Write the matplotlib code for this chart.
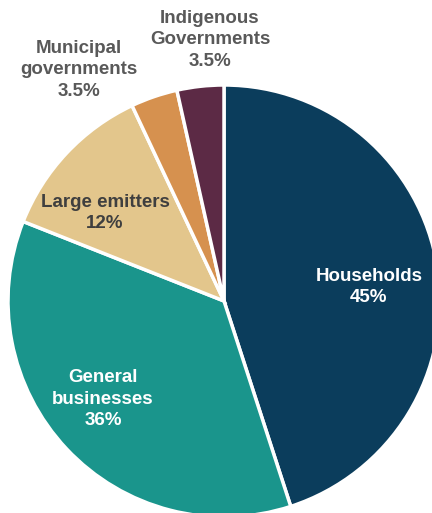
import matplotlib
matplotlib.use("Agg")
import matplotlib.pyplot as plt

# Données du graphique
categories = ["Households", "General\nbusinesses", "Large emitters",
              "Municipal\ngovernments", "Indigenous\nGovernments"]
shares = [45, 36, 12, 3.5, 3.5]
share_labels = ["45%", "36%", "12%", "3.5%", "3.5%"]
colors = ["#0B3D5C", "#1A958C", "#E3C68C", "#D6914F", "#5C2A45"]
label_colors = ["white", "white", "#3F3F3F", "#595959", "#595959"]

plt.rcParams['font.family'] = ['Liberation Sans', 'DejaVu Sans']

W, H = 432, 513
fig = plt.figure(figsize=(W / 100, H / 100), dpi=100)
ax = fig.add_axes([0, 0, 1, 1])

# Centre et rayon du camembert en pixels
cx, cy, r = 224, H - 301, 216
ax.pie(shares, colors=colors, startangle=90, counterclock=False,
       center=(cx, cy), radius=r, frame=True,
       wedgeprops=dict(edgecolor="white", linewidth=2.5))
ax.set_xlim(0, W)
ax.set_ylim(0, H)
ax.set_aspect("equal")
ax.axis("off")

# Position des étiquettes (pixels)
label_pos = [(369, 287), (103, 399), (105, 213), (79, 70), (210, 40)]
for name, pct, col, (x, y) in zip(categories, share_labels, label_colors, label_pos):
    ax.text(x, H - y, f"{name}\n{pct}", ha="center", va="center",
            color=col, fontsize=13.5, fontweight="bold", linespacing=1.35)

fig.savefig("out.png", dpi=100)
